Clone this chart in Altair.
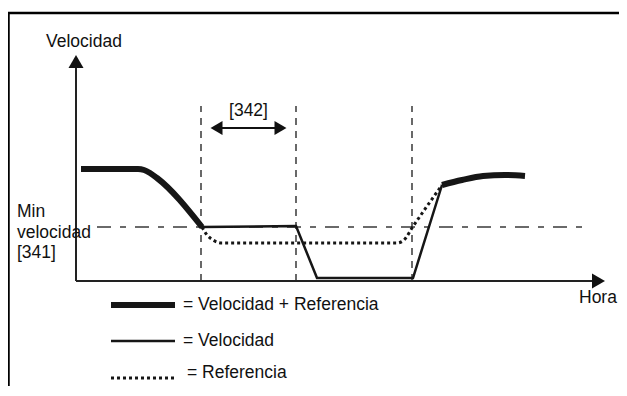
import altair as alt
import pandas as pd

# ---- data (time units on x, speed units on y; origin at the axes crossing) ----
thick1_t = [5, 62, 68, 74, 81, 126]
thick1_v = [112, 112, 111, 108, 103, 54]

thin_t = [126, 220, 241, 337, 366]
thin_v = [54, 55, 3, 3, 96]

thick2_t = [366, 386, 407, 429, 449]
thick2_v = [96, 101, 105, 106, 105]

ref_t = [126, 131, 137, 146, 321, 328, 336, 366]
ref_v = [54, 46, 41, 38, 38, 41, 53, 96]

min_speed = 54
min_span = [21, 509]
marks_t = [125, 220, 336]
marks_top = 175
interval_t = [134, 211]
interval_v = 153
yaxis_top = 215
xaxis_end = 516

legend_labels = ["= Velocidad + Referencia", "= Velocidad", "= Referencia"]

FONT = "Liberation Sans"
FS = 17.5
W, H = 611, 378
xs = alt.Scale(domain=[-68, 543])
ys = alt.Scale(domain=[-105, 273])

def X(f="t"):
    return alt.X(f"{f}:Q", scale=xs, axis=None)

def Y(f="v"):
    return alt.Y(f"{f}:Q", scale=ys, axis=None)

def line_df(t, v):
    return pd.DataFrame({"t": t, "v": v, "o": list(range(len(t)))})

base = alt.Chart()
INK = "#161616"

thick1 = alt.Chart(line_df(thick1_t, thick1_v)).mark_line(
    color=INK, strokeWidth=6, interpolate="monotone", strokeCap="butt"
).encode(x=X(), y=Y(), order="o:Q")
thick2 = alt.Chart(line_df(thick2_t, thick2_v)).mark_line(
    color=INK, strokeWidth=6, interpolate="monotone", strokeCap="butt"
).encode(x=X(), y=Y(), order="o:Q")
thin = alt.Chart(line_df(thin_t, thin_v)).mark_line(
    color=INK, strokeWidth=2.5
).encode(x=X(), y=Y(), order="o:Q")
ref = alt.Chart(line_df(ref_t, ref_v)).mark_line(
    color=INK, strokeWidth=3, strokeDash=[3, 3], interpolate="monotone"
).encode(x=X(), y=Y(), order="o:Q")

# guides
min_line = alt.Chart(pd.DataFrame({"t": [min_span[0]], "t2": [min_span[1]], "v": [min_speed]})).mark_rule(
    color="#3a3a3a", strokeWidth=1.4, strokeDash=[14, 9, 6, 9]
).encode(x=X(), x2="t2:Q", y=Y())
vlines = alt.Chart(pd.DataFrame({"t": marks_t, "v": [0] * 3, "v2": [marks_top] * 3})).mark_rule(
    color="#2a2a2a", strokeWidth=1.4, strokeDash=[7, 6]
).encode(x=X(), y=Y(), y2="v2:Q")

# axes
yaxis = alt.Chart(pd.DataFrame({"t": [0], "v": [0], "v2": [yaxis_top]})).mark_rule(
    color="#222", strokeWidth=2
).encode(x=X(), y=Y(), y2="v2:Q")
xaxis = alt.Chart(pd.DataFrame({"t": [0], "t2": [xaxis_end], "v": [0]})).mark_rule(
    color="#222", strokeWidth=2
).encode(x=X(), x2="t2:Q", y=Y())
yhead = alt.Chart(pd.DataFrame({"t": [0], "v": [yaxis_top + 4.5]})).mark_point(
    shape="triangle-up", size=225, filled=True, opacity=1, color="#111"
).encode(x=X(), y=Y())
xhead = alt.Chart(pd.DataFrame({"t": [xaxis_end + 6.5], "v": [0]})).mark_point(
    shape="triangle-right", size=225, filled=True, opacity=1, color="#111"
).encode(x=X(), y=Y())

# interval arrow [342]
iv = alt.Chart(pd.DataFrame({"t": [interval_t[0] + 6], "t2": [interval_t[1] - 6], "v": [interval_v]})).mark_rule(
    color="#111", strokeWidth=2.2
).encode(x=X(), x2="t2:Q", y=Y())
iv_heads = alt.Chart(pd.DataFrame({
    "t": [interval_t[0] + 6.5, interval_t[1] - 6.5], "v": [interval_v] * 2,
    "s": ["triangle-left", "triangle-right"]})).mark_point(
    size=190, filled=True, opacity=1, color="#111"
).encode(x=X(), y=Y(), shape=alt.Shape("s:N", scale=None))
iv_text = alt.Chart(pd.DataFrame({"t": [(interval_t[0] + interval_t[1]) / 2], "v": [interval_v + 17], "txt": ["[342]"]})).mark_text(
    font=FONT, fontSize=FS, color="#111"
).encode(x=X(), y=Y(), text="txt:N")

# frame (decoration)
frame_top = base.mark_rule(color="#000", strokeWidth=2.5).encode(
    x=alt.value(-1), x2=alt.value(W + 2), y=alt.value(5))
frame_left = base.mark_rule(color="#000", strokeWidth=2.5).encode(
    x=alt.value(0.5), y=alt.value(5), y2=alt.value(H + 2))

# labels
def label(txt, x, y, align="left"):
    return base.mark_text(font=FONT, fontSize=FS, color="#111", align=align, baseline="middle").encode(
        x=alt.value(x), y=alt.value(y), text=alt.value(txt))

labels = [
    label("Velocidad", 38, 34),
    label("Min", 9, 204),
    label("velocidad", 9, 225),
    label("[341]", 9, 245),
    label("Hora", 571, 290),
]

# legend (decoration)
leg_y = [297, 333, 368]
leg = [
    base.mark_rule(color=INK, strokeWidth=6).encode(x=alt.value(103), x2=alt.value(167), y=alt.value(leg_y[0])),
    base.mark_rule(color=INK, strokeWidth=2.5).encode(x=alt.value(103), x2=alt.value(167), y=alt.value(leg_y[1])),
    base.mark_rule(color=INK, strokeWidth=3, strokeDash=[3, 3]).encode(x=alt.value(103), x2=alt.value(167), y=alt.value(leg_y[2] + 2)),
    label(legend_labels[0], 175, leg_y[0]),
    label(legend_labels[1], 175, leg_y[1]),
    label(legend_labels[2], 179, leg_y[2] - 3),
]

chart = alt.layer(
    frame_top, frame_left,
    min_line, vlines, yaxis, xaxis, yhead, xhead,
    ref, thin, thick1, thick2,
    iv, iv_heads, iv_text,
    *labels, *leg,
).properties(
    width=W, height=H, padding=0,
    autosize=alt.AutoSizeParams(type="none"),
).configure_view(stroke=None)

chart.save("out.html", embed_options={"renderer": "svg", "actions": False})
